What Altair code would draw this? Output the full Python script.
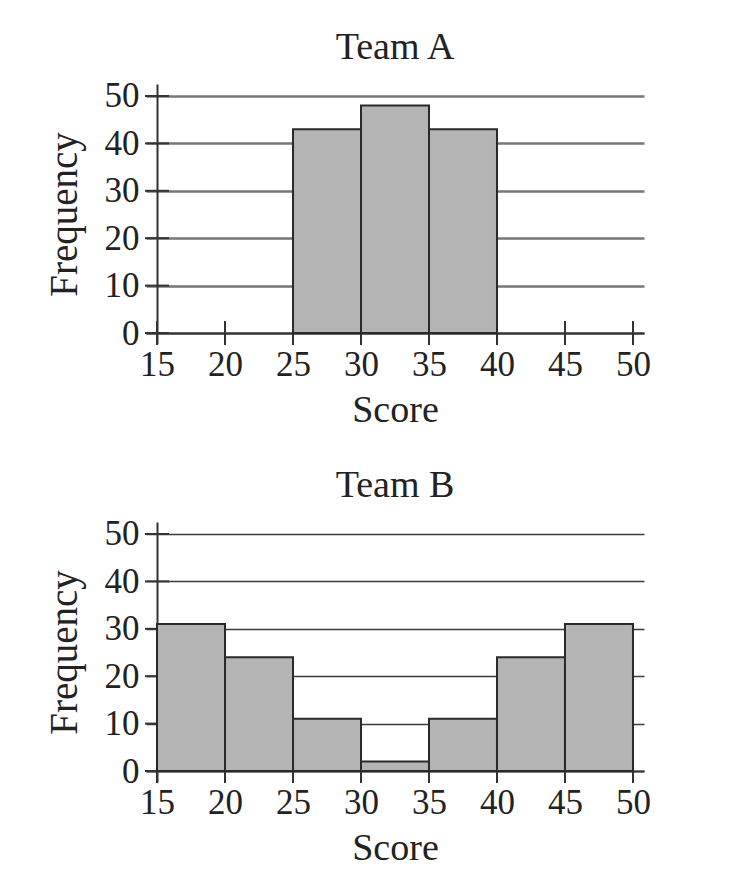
import altair as alt
import pandas as pd

# ---- data ----
X_TICKS = [15, 20, 25, 30, 35, 40, 45, 50]
Y_TICKS = [0, 10, 20, 30, 40, 50]

A_BIN_START = [25, 30, 35]
A_BIN_END = [30, 35, 40]
A_FREQ = [43, 48, 43]

B_BIN_START = [15, 20, 25, 30, 35, 40, 45]
B_BIN_END = [20, 25, 30, 35, 40, 45, 50]
B_FREQ = [31, 24, 11, 2, 11, 24, 31]

FONT = "Liberation Serif"
TXT = "#222222"
W, H = 498, 260
X_DOMAIN = [14.19, 50.81]
Y_DOMAIN = [-2.32, 52.53]


def panel(title, starts, ends, freqs, grid_color, grid_width):
    xs = alt.Scale(domain=X_DOMAIN, nice=False, zero=False)
    ys = alt.Scale(domain=Y_DOMAIN, nice=False, zero=False)

    x_axis = alt.Axis(values=X_TICKS, title="Score", grid=False, ticks=False, tickSize=0,
                      domain=True, domainColor="#333333", domainWidth=2, offset=-11,
                      labelPadding=14, labelFont=FONT, labelFontSize=35, labelColor=TXT,
                      titleFont=FONT, titleFontSize=38, titleFontWeight="normal",
                      titleColor=TXT, titlePadding=9, labelFlush=False)
    y_axis = alt.Axis(values=Y_TICKS, title="Frequency", grid=True, gridColor=grid_color,
                      gridWidth=grid_width, gridOpacity=1, ticks=False, tickSize=0,
                      domain=True, domainColor="#333333", domainWidth=2, offset=-11,
                      labelPadding=18, labelFont=FONT, labelFontSize=35, labelColor=TXT,
                      titleFont=FONT, titleFontSize=39, titleFontWeight="normal",
                      titleColor=TXT, titlePadding=20, labelFlush=False)

    xt = pd.DataFrame({"x": X_TICKS, "y": [Y_TICKS[0]] * len(X_TICKS)})
    yt = pd.DataFrame({"x": [X_TICKS[0]] * len(Y_TICKS), "y": Y_TICKS})
    bars_df = pd.DataFrame({"start": starts, "end": ends, "freq": freqs})

    xticks = alt.Chart(xt).mark_tick(orient="vertical", size=24, thickness=2,
                                     color="#333333", opacity=1).encode(
        x=alt.X("x:Q", scale=xs, axis=x_axis, title="Score"),
        y=alt.Y("y:Q", scale=ys, axis=y_axis, title="Frequency"),
    )
    yticks = alt.Chart(yt).mark_tick(orient="horizontal", size=24, thickness=2,
                                     color="#333333", opacity=1).encode(
        x=alt.X("x:Q", scale=xs, axis=x_axis, title="Score"),
        y=alt.Y("y:Q", scale=ys, axis=y_axis, title="Frequency"),
    )
    bars = alt.Chart(bars_df).mark_bar(color="#b4b4b4", stroke="#2a2a2a",
                                       strokeWidth=2, opacity=1).encode(
        x=alt.X("start:Q", scale=xs, axis=x_axis, title="Score"),
        x2="end:Q",
        y=alt.Y("freq:Q", scale=ys, axis=y_axis, title="Frequency"),
        y2=alt.datum(Y_TICKS[0]),
    )
    return alt.layer(xticks, yticks, bars).properties(
        width=W, height=H,
        title=alt.TitleParams(title, font=FONT, fontSize=38, fontWeight="normal",
                              color=TXT, offset=12, anchor="middle", frame="group"),
    )


team_a = panel("Team A", A_BIN_START, A_BIN_END, A_FREQ, "#767676", 2.5)
team_b = panel("Team B", B_BIN_START, B_BIN_END, B_FREQ, "#3c3c3c", 1.6)

chart = alt.vconcat(team_a, team_b, spacing=37).properties(
    padding={"left": 45, "top": 28, "right": 5, "bottom": 5}
).configure(background="white").configure_view(stroke="transparent", strokeWidth=0)

chart.save("out.html", embed_options={"renderer": "svg", "actions": False})
